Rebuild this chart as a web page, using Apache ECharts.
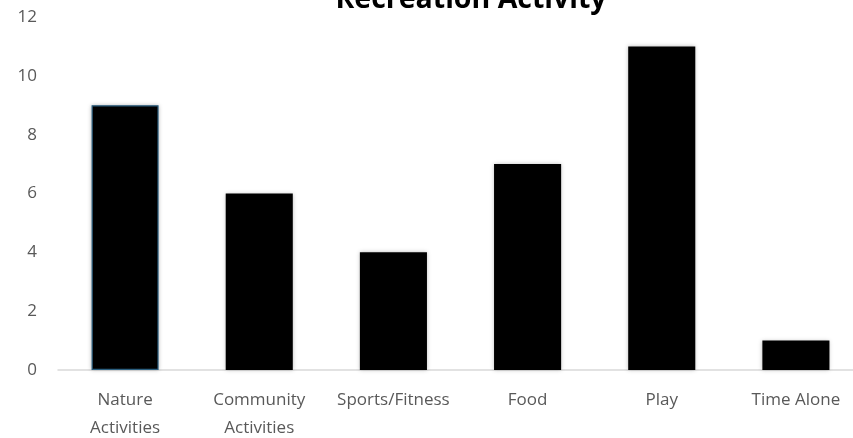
<!DOCTYPE html>
<html>
<head>
<meta charset="utf-8">
<script src="https://cdn.jsdelivr.net/npm/echarts@6/dist/echarts.min.js"></script>
<style>
  html, body { margin: 0; padding: 0; background: #fff; overflow: hidden; width: 100%; height: 100%; }
  #chart { position: absolute; left: 0; top: 0; width: 853px; height: 438px; }
</style>
</head>
<body>
<div id="chart"></div>
<script>
// Recreation activity counts by category
const categories = ['Nature\nActivities', 'Community\nActivities', 'Sports/Fitness', 'Food', 'Play', 'Time Alone'];
const counts = [9, 6, 4, 7, 11, 1];
const yTicks = { min: 0, max: 12, interval: 2 };
const titleText = 'Recreation Activity';

const chart = echarts.init(document.getElementById('chart'));
const textFont = '"Open Sans", Roboto, sans-serif';

chart.setOption({
  animation: false,
  title: {
    text: titleText,
    left: 466,
    textAlign: 'center',
    top: -20,
    textStyle: { fontFamily: '"Open Sans", Roboto, sans-serif', fontWeight: 'bold', fontSize: 28.5, color: '#000' }
  },
  grid: { left: 58, top: 17, width: 805, bottom: 68, containLabel: false, outerBoundsMode: 'none' },
  xAxis: {
    type: 'category',
    data: categories,
    axisLine: { lineStyle: { color: '#d9d9d9', width: 1.5 } },
    axisTick: { show: false },
    axisLabel: { color: '#595959', fontSize: 17, fontFamily: textFont, margin: 16, lineHeight: 28, interval: 0 }
  },
  yAxis: {
    type: 'value',
    min: yTicks.min, max: yTicks.max, interval: yTicks.interval,
    splitLine: { show: false },
    axisLine: { show: false },
    axisTick: { show: false },
    axisLabel: { color: '#595959', fontSize: 17, fontFamily: textFont, margin: 21 }
  },
  series: [{
    type: 'bar',
    data: counts.map((v, i) => ({
      value: v,
      itemStyle: i === 0 ? { borderColor: '#2b5f80', borderWidth: 1.2 } : {}
    })),
    barWidth: '50%',
    itemStyle: {
      color: '#000',
      shadowColor: 'rgba(0,0,0,0.25)',
      shadowBlur: 4
    }
  }]
});
</script>
</body>
</html>
